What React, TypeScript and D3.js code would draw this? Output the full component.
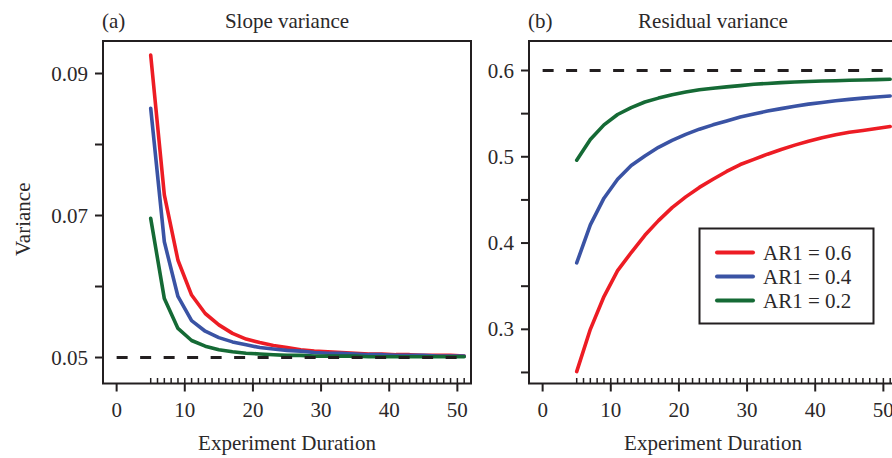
import { useEffect } from "react";
import * as d3 from "d3";

// experiment durations at which the variances were computed
const durations = [5, 7, 9, 11, 13, 15, 17, 19, 21, 23, 25, 27, 29, 31, 33, 35, 37, 39, 41, 43, 45, 47, 49, 51];

// (a) slope variance
const slopeAR06 = [0.0926, 0.0729, 0.0637, 0.0588, 0.0562, 0.0546, 0.0534, 0.0526, 0.0521, 0.0517, 0.0514, 0.0511, 0.0509, 0.0508, 0.0507, 0.0506, 0.0505, 0.0505, 0.0504, 0.0504, 0.0503, 0.0503, 0.0503, 0.0502];
const slopeAR04 = [0.0851, 0.0663, 0.0586, 0.0552, 0.0537, 0.0528, 0.0522, 0.0518, 0.0514, 0.0512, 0.051, 0.0509, 0.0507, 0.0506, 0.0506, 0.0505, 0.0504, 0.0504, 0.0503, 0.0503, 0.0503, 0.0502, 0.0502, 0.0502];
const slopeAR02 = [0.0696, 0.0583, 0.0541, 0.0524, 0.0516, 0.0511, 0.0508, 0.0506, 0.0505, 0.0504, 0.0503, 0.0503, 0.0502, 0.0502, 0.0502, 0.0502, 0.0501, 0.0501, 0.0501, 0.0501, 0.0501, 0.0501, 0.0501, 0.0501];
const slopeTrue = 0.05;

// (b) residual variance
const residAR06 = [0.251, 0.3, 0.338, 0.368, 0.389, 0.409, 0.426, 0.441, 0.4535, 0.4645, 0.474, 0.483, 0.491, 0.497, 0.503, 0.5085, 0.5135, 0.518, 0.522, 0.5255, 0.5284, 0.5305, 0.5327, 0.535];
const residAR04 = [0.377, 0.421, 0.452, 0.474, 0.49, 0.501, 0.511, 0.519, 0.526, 0.532, 0.537, 0.5415, 0.546, 0.5495, 0.553, 0.5558, 0.5585, 0.561, 0.563, 0.565, 0.5665, 0.568, 0.5693, 0.5705];
const residAR02 = [0.496, 0.52, 0.537, 0.549, 0.557, 0.5635, 0.568, 0.572, 0.575, 0.5776, 0.5795, 0.581, 0.5825, 0.584, 0.585, 0.586, 0.5866, 0.5873, 0.5878, 0.5882, 0.5887, 0.589, 0.5894, 0.5898];
const residTrue = 0.6;

const seriesNames = ["AR1 = 0.6", "AR1 = 0.4", "AR1 = 0.2"];
const seriesColors = ["#ed1c24", "#3a53a4", "#156a35"];

const xTicks = [0, 10, 20, 30, 40, 50];
const rugTicks = d3.range(5, 52);
const slopeTicks = [0.05, 0.06, 0.07, 0.08, 0.09];
const slopeLabels = [0.05, 0.07, 0.09];
const residTicks = [0.25, 0.3, 0.35, 0.4, 0.45, 0.5, 0.55, 0.6];
const residLabels = [0.3, 0.4, 0.5, 0.6];

const INK = "#231f20";
const txt = { fontFamily: '"Liberation Serif", "Times New Roman", Times, serif', fontSize: 21, fill: "#2b2829" };

function Panel({ left, tag, title, series, refValue, yDomain, yTicks, yLabels, fmt, yTitle, legend }) {
  const x = d3.scaleLinear().domain([-2, 52]).range([left, left + 368]);
  const y = d3.scaleLinear().domain(yDomain).range([383.5, 41]);
  const line = d3.line<number>().x((_, i) => x(durations[i])).y(d => y(d));
  const [x0, x1] = x.range();
  const [yb, yt] = y.range();

  return (
    <g>
      <text x={left - 1} y={28} style={txt}>{tag}</text>
      <text x={(x0 + x1) / 2} y={28} style={txt} textAnchor="middle">{title}</text>

      {series.map((s, i) => (
        <path key={i} d={line(s) ?? ""} fill="none" stroke={seriesColors[i]} strokeWidth={3.6} strokeLinejoin="round" strokeLinecap="round" />
      ))}
      <line x1={x(0)} x2={x(51)} y1={y(refValue)} y2={y(refValue)} stroke={INK} strokeWidth={3} strokeDasharray="11,12.5" />

      <rect x={x0} y={yt} width={x1 - x0} height={yb - yt} fill="none" stroke={INK} strokeWidth={2} />

      {xTicks.map(t => (
        <g key={t}>
          <line x1={x(t)} x2={x(t)} y1={yb} y2={yb + 8} stroke={INK} strokeWidth={2} />
          <text x={x(t)} y={417} style={txt} textAnchor="middle">{t}</text>
        </g>
      ))}
      {rugTicks.map(t => (
        <line key={t} x1={x(t)} x2={x(t)} y1={yb} y2={yb - 5.5} stroke={INK} strokeWidth={1.5} />
      ))}
      <text x={(x0 + x1) / 2} y={450} style={txt} textAnchor="middle">Experiment Duration</text>

      {yTicks.map(t => (
        <line key={t} x1={x0 - 8} x2={x0} y1={y(t)} y2={y(t)} stroke={INK} strokeWidth={2} />
      ))}
      {yLabels.map(t => (
        <text key={t} x={x0 - 15} y={y(t) + 7} style={txt} textAnchor="end">{fmt(t)}</text>
      ))}
      {yTitle && (
        <text transform={`translate(30,${(yt + yb) / 2 + 7}) rotate(-90)`} style={txt} textAnchor="middle">{yTitle}</text>
      )}

      {legend && (
        <g>
          <rect x={699.5} y={228.5} width={174} height={95} fill="#fff" stroke={INK} strokeWidth={2} />
          {seriesNames.map((n, i) => (
            <g key={n}>
              <line x1={717} x2={753} y1={252.5 + i * 24} y2={252.5 + i * 24} stroke={seriesColors[i]} strokeWidth={4} strokeLinecap="round" />
              <text x={763} y={259.5 + i * 24} style={txt}>{n}</text>
            </g>
          ))}
        </g>
      )}
    </g>
  );
}

export default function App() {
  useEffect(() => {
    document.body.style.margin = "0";
  }, []);

  return (
    <svg width={892} height={458} style={{ display: "block", background: "#fff" }}>
      <Panel left={103} tag="(a)" title="Slope variance"
        series={[slopeAR06, slopeAR04, slopeAR02]} refValue={slopeTrue}
        yDomain={[0.04634, 0.09458]} yTicks={slopeTicks} yLabels={slopeLabels}
        fmt={d3.format(".2f")} yTitle="Variance" legend={false} />
      <Panel left={529} tag="(b)" title="Residual variance"
        series={[residAR06, residAR04, residAR02]} refValue={residTrue}
        yDomain={[0.2372, 0.6342]} yTicks={residTicks} yLabels={residLabels}
        fmt={d3.format(".1f")} yTitle={null} legend={true} />
    </svg>
  );
}
